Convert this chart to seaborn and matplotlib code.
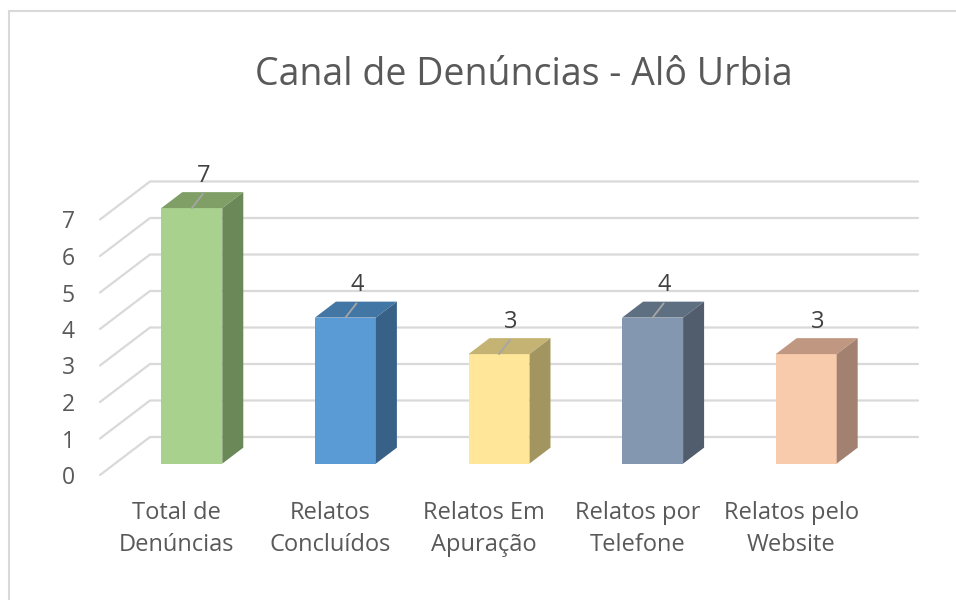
import matplotlib
matplotlib.use("Agg")
import matplotlib.pyplot as plt
import matplotlib.transforms as mtransforms
from matplotlib.patches import Polygon, Rectangle
import pandas as pd
import seaborn as sns

# Data
title = "Canal de Denúncias - Alô Urbia"
categories = ["Total de\nDenúncias", "Relatos\nConcluídos", "Relatos Em\nApuração",
              "Relatos por\nTelefone", "Relatos pelo\nWebsite"]
values = [7, 4, 3, 4, 3]
y_ticks = [0, 1, 2, 3, 4, 5, 6, 7]

# Colours (front / top / side of each box)
front_colors = ["#A9D18E", "#5B9BD5", "#FFE699", "#8497B0", "#F8CBAD"]
top_colors = ["#7F9F66", "#4276A4", "#C4B373", "#5F6F82", "#C09882"]
side_colors = ["#6B8858", "#386188", "#A39560", "#515C6C", "#A28170"]
leader = [True, True, True, True, False]

sns.set_theme(style="white")
plt.rcParams["font.family"] = ["Open Sans", "DejaVu Sans"]

# fake 3d geometry, in data units
DX, DY = 0.3255, 1.041   # full depth of the floor / wall box
FRONT = 0.3              # where the bars start inside the depth
DEPTH = 0.42             # how deep the bars are

fig = plt.figure(figsize=(9.56, 6.0), dpi=100)
ax = fig.add_axes([100 / 956, 125 / 600, 818 / 956, 8.2 * 36.5 / 600])

df = pd.DataFrame({"cat": categories, "val": values})
sns.barplot(data=df, x="cat", y="val", hue="cat", palette=front_colors,
            width=0.397, saturation=1, legend=False, linewidth=0, ax=ax, zorder=3)

bars = list(ax.patches)
shift = mtransforms.Affine2D().translate(FRONT * DX, FRONT * DY) + ax.transData
for i, bar in enumerate(bars):
    bar.set_transform(shift)
    x0, w, h = bar.get_x(), bar.get_width(), bar.get_height()
    bx, by = DEPTH * DX, DEPTH * DY
    top = Polygon([(x0, h), (x0 + w, h), (x0 + w + bx, h + by), (x0 + bx, h + by)],
                  closed=True, facecolor=top_colors[i], edgecolor="none",
                  transform=shift, zorder=3)
    side = Polygon([(x0 + w, 0), (x0 + w + bx, by), (x0 + w + bx, h + by), (x0 + w, h)],
                   closed=True, facecolor=side_colors[i], edgecolor="none",
                   transform=shift, zorder=3)
    ax.add_patch(top)
    ax.add_patch(side)

    # data label with a small leader line
    cx = x0 + w / 2 + FRONT * DX
    cy = h + FRONT * DY
    if leader[i]:
        ax.plot([cx, cx + 0.072], [cy, cy + 0.39], color="#A6A6A6", lw=1.3, zorder=4)
    ax.text(cx + 0.078, cy + 0.88, f"{values[i]}", ha="center", va="center",
            fontsize=17, color="#404040", zorder=5)

# gridlines on the side wall and back wall
for v in y_ticks:
    ax.plot([-0.5, -0.5 + DX, 4.5 + DX], [v, v + DY, v + DY],
            color="#D9D9D9", lw=1.6, zorder=1, clip_on=False)

ax.set_xlim(-0.5, 4.5 + DX)
ax.set_ylim(0, 8.2)
ax.set_yticks(y_ticks)
ax.set_xticks(range(len(categories)))
ax.set_xticklabels(categories, linespacing=1.4)
ax.tick_params(axis="y", length=0, pad=18, labelsize=16.5, labelcolor="#595959")
ax.tick_params(axis="x", length=0, pad=19, labelsize=17, labelcolor="#595959")
ax.set_xlabel("")
ax.set_ylabel("")
for s in ax.spines.values():
    s.set_visible(False)
ax.patch.set_alpha(0)

fig.text(523.5 / 956, 1 - 75 / 600, title, ha="center", va="center",
         fontsize=27, color="#595959")

# chart border (runs off the right and bottom of the picture)
fig.add_artist(Rectangle((9 / 956, -0.05), 1.1, 1.05 - 11 / 600, fill=False,
                         edgecolor="#D9D9D9", lw=1.5, transform=fig.transFigure,
                         clip_on=False))

fig.savefig("out.png", dpi=100)
